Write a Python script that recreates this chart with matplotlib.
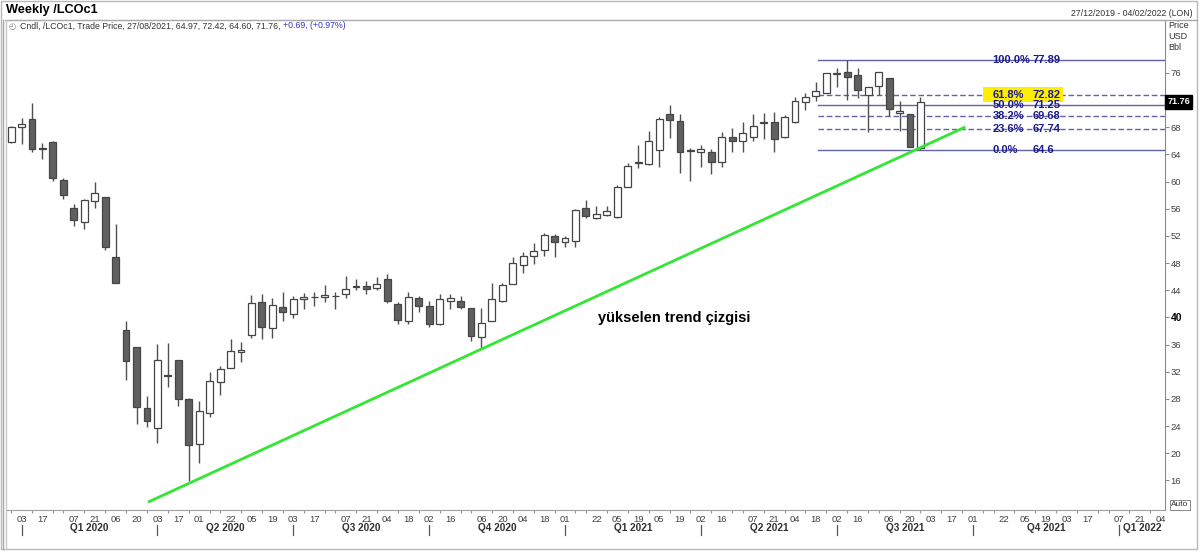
import numpy as np
import pandas as pd
import matplotlib
matplotlib.use('Agg')
import matplotlib.pyplot as plt
import matplotlib.transforms as mtransforms
from matplotlib.patches import Rectangle
from matplotlib.lines import Line2D

plt.rcParams['font.family'] = ['Liberation Sans', 'DejaVu Sans']

# weekly Brent candles, first one is 27/12/2019, last one 27/08/2021
first_week = '2019-12-27'
opens = [65.9, 68.1, 69.2, 64.95, 65.9, 60.2, 56.1, 54.0, 57.1, 57.7,
         48.85, 38.15, 35.6, 26.6, 23.7, 31.5, 33.7, 27.95, 21.3, 25.9,
         30.45, 32.6, 34.9, 37.4, 42.2, 38.5, 41.5, 40.45, 42.65, 42.95,
         42.95, 43.1, 43.4, 44.55, 44.65, 44.3, 45.6, 42.0, 39.5, 42.8,
         41.7, 39.0, 42.4, 42.35, 41.35, 37.15, 39.5, 42.35, 44.9, 47.7,
         49.1, 49.95, 52.0, 51.1, 51.3, 56.1, 54.6, 55.05, 54.75, 59.25,
         62.8, 62.55, 64.65, 69.9, 68.9, 64.55, 64.4, 64.4, 62.95, 66.5,
         66.0, 66.55, 68.7, 68.8, 66.6, 68.8, 71.7, 72.65, 73.1, 75.8,
         76.1, 75.7, 72.75, 74.1, 75.3, 70.15, 69.95, 64.97]
highs = [68.25, 69.3, 71.6, 65.65, 66.0, 60.5, 56.7, 57.5, 59.95, 57.8,
         53.8, 39.5, 35.7, 28.4, 36.05, 36.3, 33.8, 28.1, 27.7, 32.0,
         32.8, 36.8, 36.45, 43.3, 43.4, 42.8, 43.7, 43.2, 43.55, 43.7,
         44.8, 43.7, 46.1, 45.6, 45.4, 45.9, 46.4, 42.3, 43.7, 43.2,
         42.4, 43.4, 43.4, 43.2, 41.4, 41.35, 45.1, 45.1, 48.95, 49.7,
         50.9, 52.4, 52.3, 52.0, 56.0, 57.3, 56.4, 56.4, 59.5, 62.7,
         65.4, 67.5, 69.55, 71.3, 69.95, 64.9, 65.4, 64.75, 67.35, 67.85,
         68.8, 69.9, 70.05, 70.2, 69.8, 72.4, 73.1, 74.7, 76.05, 76.7,
         77.89, 76.7, 74.0, 76.2, 75.3, 71.8, 70.0, 72.42]
lows = [65.65, 65.5, 64.4, 63.3, 60.1, 57.5, 53.5, 53.0, 56.1, 49.9,
        45.0, 30.8, 24.3, 23.9, 21.5, 29.8, 26.95, 15.9, 18.5, 25.3,
        28.6, 32.5, 33.4, 36.9, 36.8, 36.95, 39.4, 39.9, 41.2, 41.7,
        42.2, 41.2, 42.8, 44.1, 43.45, 44.0, 42.1, 39.1, 39.1, 40.85,
        38.6, 38.95, 41.2, 41.2, 36.55, 35.5, 39.4, 42.3, 44.85, 46.6,
        47.9, 49.05, 48.95, 50.4, 50.4, 54.6, 54.5, 55.0, 54.6, 59.2,
        62.0, 62.5, 62.2, 66.4, 61.2, 60.15, 62.2, 61.1, 62.2, 64.4,
        64.4, 66.0, 66.3, 64.4, 66.4, 68.6, 70.55, 71.9, 73.0, 73.9,
        72.0, 72.3, 67.35, 72.75, 69.7, 67.5, 65.05, 64.60]
closes = [68.0, 68.5, 64.85, 64.75, 60.5, 58.0, 54.35, 57.3, 58.3, 50.4,
          45.1, 33.65, 26.8, 24.75, 33.8, 31.3, 27.95, 21.2, 26.2, 30.7,
          32.4, 35.0, 35.2, 42.1, 38.55, 41.8, 40.85, 42.7, 43.05, 42.95,
          43.25, 43.2, 44.2, 44.7, 44.25, 44.9, 42.4, 39.6, 43.0, 41.7,
          39.1, 42.7, 42.8, 41.55, 37.3, 39.2, 42.7, 44.8, 48.0, 49.05,
          49.8, 52.1, 51.1, 51.65, 55.8, 54.95, 55.2, 55.7, 59.2, 62.3,
          62.7, 66.0, 69.2, 69.1, 64.4, 64.5, 64.75, 62.85, 66.6, 66.0,
          67.1, 68.2, 68.7, 66.3, 69.5, 71.85, 72.5, 73.35, 76.05, 76.05,
          75.45, 73.5, 74.0, 76.2, 70.65, 70.45, 65.05, 71.76]

tick_dates = ['2020-01-03', '2020-01-17', '2020-02-07', '2020-02-21', '2020-03-06', '2020-03-20',
              '2020-04-03', '2020-04-17', '2020-05-01', '2020-05-22', '2020-06-05', '2020-06-19',
              '2020-07-03', '2020-07-17', '2020-08-07', '2020-08-21', '2020-09-04', '2020-09-18',
              '2020-10-02', '2020-10-16', '2020-11-06', '2020-11-20', '2020-12-04', '2020-12-18',
              '2021-01-01', '2021-01-22', '2021-02-05', '2021-02-19', '2021-03-05', '2021-03-19',
              '2021-04-02', '2021-04-16', '2021-05-07', '2021-05-21', '2021-06-04', '2021-06-18',
              '2021-07-02', '2021-07-16', '2021-08-06', '2021-08-20', '2021-09-03', '2021-09-17',
              '2021-10-01', '2021-10-22', '2021-11-05', '2021-11-19', '2021-12-03', '2021-12-17',
              '2022-01-07', '2022-01-21', '2022-02-04']
quarter_starts = ['2020-01-03', '2020-04-03', '2020-07-03', '2020-10-02', '2021-01-01',
                  '2021-04-02', '2021-07-02', '2021-10-01', '2022-01-07']
quarter_names = ['Q1 2020', 'Q2 2020', 'Q3 2020', 'Q4 2020', 'Q1 2021',
                 'Q2 2021', 'Q3 2021', 'Q4 2021', 'Q1 2022']

fib_pcts = ['100.0%', '61.8%', '50.0%', '38.2%', '23.6%', '0.0%']
fib_levels = [77.89, 72.82, 71.25, 69.68, 67.74, 64.6]
fib_dashed = [False, True, False, True, True, False]

# trend line, in weeks from 03/01/2020
trend_w = [12.1, 90.3]
trend_p = [12.8, 68.05]

y_ticks = list(range(16, 80, 4))

base = pd.Timestamp('2020-01-03')
def wk(d):
    return (pd.Timestamp(d) - base).days / 7.0

dates = pd.date_range(first_week, periods=len(opens), freq='7D')
x = np.array([wk(d) for d in dates])
o = np.array(opens); h = np.array(highs); l = np.array(lows); c = np.array(closes)

W, H = 1200, 553
fig = plt.figure(figsize=(12, 5.53), dpi=100)
ax = fig.add_axes([7 / W, 1 - 510 / H, (1165 - 7) / W, (510 - 20) / H])
ax.set_xlim(-1.39, 109.4)
ax.set_ylim(11.64, 83.8)

# candles
up = c >= o
ax.vlines(x, l, h, color='#505050', lw=1, zorder=2)
body_lo = np.minimum(o, c)
body_h = np.maximum(np.abs(c - o), 0.12)
ax.bar(x, body_h, bottom=body_lo, width=0.66,
       color=np.where(up, 'white', '#606060'), edgecolor='#454545', lw=0.9, zorder=3)

# trend line
ax.plot(trend_w, trend_p, color='#33e633', lw=2, zorder=4, solid_capstyle='butt')
ax.text(55.2, 39.9, 'yükselen trend çizgisi', fontsize=10.5, fontweight='bold',
        ha='left', va='center', color='black')

# fibonacci
fib_start = 76.2
for pct, lev, dash in zip(fib_pcts, fib_levels, fib_dashed):
    ax.plot([fib_start, 109.4], [lev, lev], color='#6262a6', lw=1,
            ls=(0, (4, 2)) if dash else '-', zorder=1)
    ax.text(92.9, lev, pct, fontsize=8, fontweight='bold', color='#1a1a8c',
            ha='left', va='center', zorder=6)
    ax.text(96.75, lev, str(lev), fontsize=8, fontweight='bold', color='#1a1a8c',
            ha='left', va='center', zorder=6)
ax.add_patch(Rectangle((91.95, 72.82 - 1.08), 7.65, 2.16, facecolor='#ffee00',
                       edgecolor='none', zorder=5))

# axes styling
for s in ['top', 'left']:
    ax.spines[s].set_visible(False)
ax.spines['right'].set_color('#8a8a8a')
ax.spines['bottom'].set_color('#a0a0a0')
ax.yaxis.tick_right()
ax.set_yticks(y_ticks)
ax.tick_params(axis='y', length=3, width=0.8, color='#8a8a8a', labelsize=6.8,
               labelcolor='#404040', pad=1)
for t in ax.get_yticklabels():
    if t.get_text() == '40':
        t.set_fontweight('bold'); t.set_color('black'); t.set_fontsize(7.5)
    if t.get_text() == '72':
        t.set_visible(False)  # hidden behind the last price tag

ax.set_xticks([wk(d) for d in tick_dates])
ax.set_xticklabels([pd.Timestamp(d).strftime('%d') for d in tick_dates])
ax.set_xticks(x.tolist() + [wk(d) for d in pd.date_range('2021-09-03', '2022-02-04', freq='7D')],
              minor=True)
ax.tick_params(axis='x', which='major', length=0, pad=3.5, labelsize=6.8, labelcolor='#404040')
ax.tick_params(axis='x', which='minor', length=2.5, width=0.8, color='#909090')

trans = mtransforms.blended_transform_factory(ax.transData, ax.transAxes)
qx = [wk(d) for d in quarter_starts]
for i, name in enumerate(quarter_names):
    ax.plot([qx[i], qx[i]], [-0.031, -0.052], transform=trans, color='#555555',
            lw=0.9, clip_on=False)
    if i < len(quarter_names) - 1:
        ax.text((qx[i] + qx[i + 1]) / 2, -0.037, name, transform=trans, ha='center',
                va='center', fontsize=7.2, fontweight='bold', color='#303030')
    else:
        ax.text(qx[i] + 0.4, -0.037, name, transform=trans, ha='left',
                va='center', fontsize=7.2, fontweight='bold', color='#303030')

# last price tag
trans_y = mtransforms.blended_transform_factory(ax.transAxes, ax.transData)
ax.text(1.002, closes[-1], f'{closes[-1]:.2f}', transform=trans_y, ha='left', va='center',
        fontsize=6.5, fontweight='bold', color='white',
        bbox=dict(boxstyle='square,pad=0.25', facecolor='black', edgecolor='black'))

# header texts
fig.text(6 / W, 1 - 10 / H, 'Weekly /LCOc1', fontsize=9.2, fontweight='bold',
         ha='left', va='center')
fig.text(1193 / W, 1 - 13 / H, '27/12/2019 - 04/02/2022 (LON)', fontsize=6.3,
         color='#333333', ha='right', va='center')
t1 = fig.text(20 / W, 1 - 26 / H, 'Cndl, /LCOc1, Trade Price, 27/08/2021, 64.97, 72.42, 64.60, 71.76, ',
              fontsize=6.3, color='#333333', ha='left', va='center')
ax.annotate('+0.69, (+0.97%)', xy=(1, 0), xycoords=t1, ha='left', va='bottom',
            fontsize=6.3, color='#3333cc', annotation_clip=False)
fig.text(12 / W, 1 - 26 / H, '\u25F4', fontsize=6, color='#777777', ha='center', va='center',
         family=['DejaVu Sans'])
fig.text(1168 / W, 1 - 21 / H, 'Price\nUSD\nBbl', fontsize=6.5, color='#333333',
         ha='left', va='top', linespacing=1.25)
fig.text(1180 / W, 1 - 505 / H, 'Auto', fontsize=6, color='#333333', ha='center', va='center',
         bbox=dict(boxstyle='square,pad=0.2', facecolor='white', edgecolor='#777777', lw=0.6))

# frame lines
fig.add_artist(Rectangle((0.5 / W, 1 - 549 / H), 1196.5 / W, 548.5 / H, transform=fig.transFigure,
                         fill=False, edgecolor='#b8b8b8', lw=1))
fig.add_artist(Line2D([5 / W, 1197 / W], [1 - 20 / H, 1 - 20 / H], color='#a8a8a8', lw=1))
fig.add_artist(Line2D([3 / W, 3 / W], [1 - 549 / H, 1 - 20 / H], color='#a8a8a8', lw=1))
fig.add_artist(Line2D([6 / W, 6 / W], [1 - 549 / H, 1 - 20 / H], color='#c8c8c8', lw=1))

fig.savefig('out.png', dpi=100)
